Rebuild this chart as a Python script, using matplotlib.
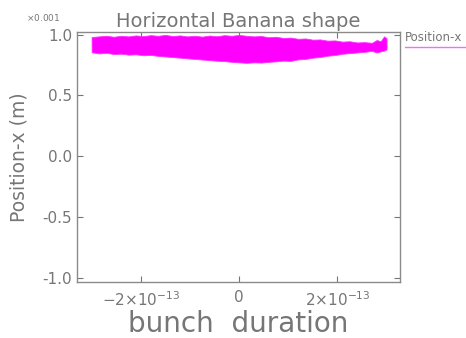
import numpy as np
import matplotlib
matplotlib.use('Agg')
import matplotlib.pyplot as plt
from matplotlib.lines import Line2D

# band edges (t in units of 1e-13 s, position in units of 1e-3 m)
t_pts = [-3.0, -2.85, -2.7, -2.55, -2.4, -2.25, -2.1, -1.95, -1.8, -1.65, -1.5, -1.35,
         -1.2, -1.05, -0.9, -0.75, -0.6, -0.45, -0.3, -0.15, 0.0, 0.15, 0.3, 0.45,
         0.6, 0.75, 0.9, 1.05, 1.2, 1.35, 1.5, 1.65, 1.8, 1.95, 2.1, 2.25, 2.4, 2.55,
         2.7, 2.8, 2.88, 2.95, 3.0]
upper = [0.98, 0.985, 0.99, 0.982, 0.99, 0.985, 0.993, 0.987, 0.995, 0.99, 0.997, 0.988,
         0.993, 0.985, 0.99, 0.983, 0.992, 0.986, 0.995, 0.99, 0.997, 0.99, 0.985, 0.988,
         0.978, 0.982, 0.972, 0.975, 0.965, 0.968, 0.958, 0.96, 0.95, 0.952, 0.942, 0.945,
         0.935, 0.938, 0.932, 0.955, 0.945, 0.985, 0.97]
lower = [0.855, 0.845, 0.85, 0.84, 0.843, 0.835, 0.838, 0.83, 0.833, 0.825, 0.82, 0.815,
         0.81, 0.805, 0.8, 0.795, 0.79, 0.785, 0.782, 0.776, 0.772, 0.768, 0.772, 0.77,
         0.776, 0.78, 0.786, 0.784, 0.796, 0.8, 0.81, 0.816, 0.826, 0.832, 0.842, 0.848,
         0.853, 0.858, 0.866, 0.853, 0.862, 0.868, 0.878]

yticks = [-1.0, -0.5, 0.0, 0.5, 1.0]
ytick_labels = ['-1.0', '-0.5', '0.0', '0.5', '1.0']
xticks = [-2e-13, 0, 2e-13]
xtick_labels = [r'$-2{\times}10^{-13}$', '0', r'$2{\times}10^{-13}$']

grey = '#767676'
pink = '#ff00ff'

fig = plt.figure(figsize=(4.66, 3.38), dpi=100)
ax = fig.add_axes([0.165, 0.166, 0.693, 0.739])

t = np.array(t_pts) * 1e-13
ax.fill_between(t, lower, upper, color=pink, linewidth=0.6, edgecolor='#ff30ff')

ax.set_xlim(-3.3e-13, 3.27e-13)
ax.set_ylim(-1.03, 1.02)
ax.set_xticks(xticks)
ax.set_xticklabels(xtick_labels)
ax.set_yticks(yticks)
ax.set_yticklabels(ytick_labels)
ax.tick_params(direction='in', top=True, right=True, length=4, color=grey,
               labelcolor=grey, labelsize=11)
ax.tick_params(axis='x', pad=6)
for s in ax.spines.values():
    s.set_color('#8a8a8a')
    s.set_linewidth(1.0)

ax.set_title('Horizontal Banana shape', color=grey, fontsize=14, pad=4)
ax.set_xlabel('bunch  duration', color=grey, fontsize=20, labelpad=1)
ax.set_ylabel('Position-x (m)', color=grey, fontsize=13.5, labelpad=10)

fig.text(0.055, 0.947, r'$\times$0.001', color=grey, fontsize=6.5, ha='left', va='center')

# legend outside the axes on the right
fig.text(0.869, 0.890, 'Position-x', color=grey, fontsize=8.5, ha='left', va='center')
fig.add_artist(Line2D([0.869, 1.0], [0.861, 0.861], color='#f070f0', linewidth=1.0))

fig.savefig('out.png', dpi=100)
